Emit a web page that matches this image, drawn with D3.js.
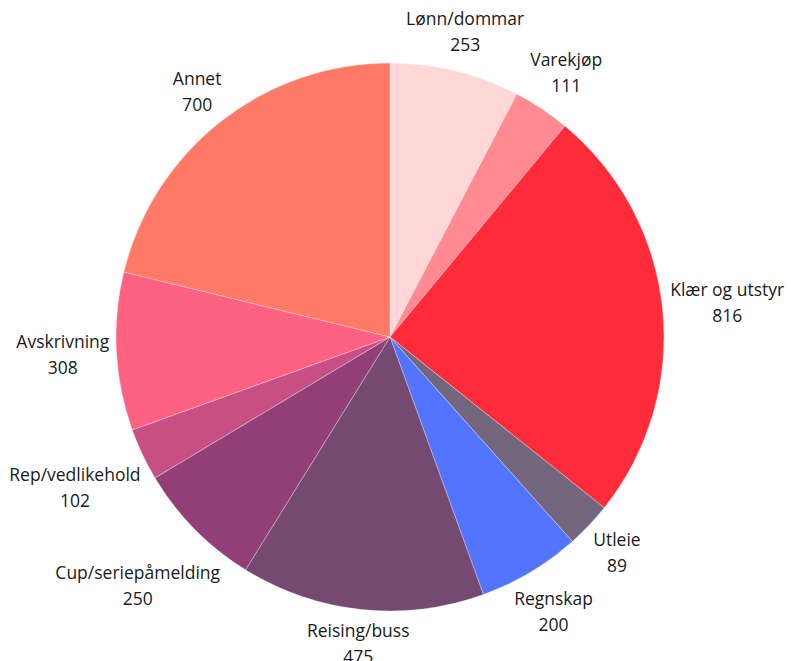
<!DOCTYPE html>
<html>
<head>
<meta charset="utf-8">
<script src="https://cdn.jsdelivr.net/npm/d3@7"></script>
<style>
  html, body { margin: 0; padding: 0; background: #fff; }
  svg { display: block; }
  text { font-family: "Open Sans", "Noto Sans", sans-serif; fill: #1a1a1a; }
</style>
</head>
<body>
<svg id="chart" width="791" height="661"></svg>
<script>
const categories = ["Lønn/dommar", "Varekjøp", "Klær og utstyr", "Utleie", "Regnskap", "Reising/buss", "Cup/seriepåmelding", "Rep/vedlikehold", "Avskrivning", "Annet"];
const values = [253, 111, 816, 89, 200, 475, 250, 102, 308, 700];
const colors = ["#ffd7d7", "#ff8a91", "#ff2b3a", "#73667d", "#5274ff", "#744a73", "#923f77", "#c74f83", "#ff6182", "#ff7967"];

const width = 791, height = 661;
const cx = 390, cy = 337, radius = 274, gap = 6;

const svg = d3.select("#chart");
const g = svg.append("g").attr("transform", `translate(${cx},${cy})`);

const data = categories.map((c, i) => ({ name: c, value: values[i], color: colors[i] }));
const pie = d3.pie().value(d => d.value).sort(null);
const arcs = pie(data);
const arc = d3.arc().innerRadius(0).outerRadius(radius);

g.selectAll("path.slice").data(arcs).join("path")
  .attr("class", "slice")
  .attr("d", arc)
  .attr("fill", d => d.data.color)
  .attr("stroke", "rgba(255,255,255,0.5)")
  .attr("stroke-width", 0.6);

const fontSize = 17.5, lineH = 26;
const labels = g.selectAll("g.label").data(arcs).join("g").attr("class", "label");
labels.append("text").attr("class", "name")
  .attr("text-anchor", "middle").attr("font-size", fontSize)
  .attr("y", -lineH / 2 + 7)
  .text(d => d.data.name);
labels.append("text").attr("class", "val")
  .attr("text-anchor", "middle").attr("font-size", fontSize)
  .attr("y", lineH / 2 + 7)
  .text(d => d.data.value);

labels.each(function(d) {
  const node = d3.select(this);
  const w = Math.max(node.select(".name").node().getComputedTextLength(), node.select(".val").node().getComputedTextLength());
  const hw = w / 2, hh = 22;
  const a = (d.startAngle + d.endAngle) / 2;
  const s = Math.sin(a), c = -Math.cos(a);
  const R = radius + gap + Math.abs(s) * hw + Math.abs(c) * hh;
  node.attr("transform", `translate(${R * s},${R * c})`);
});
</script>
</body>
</html>
